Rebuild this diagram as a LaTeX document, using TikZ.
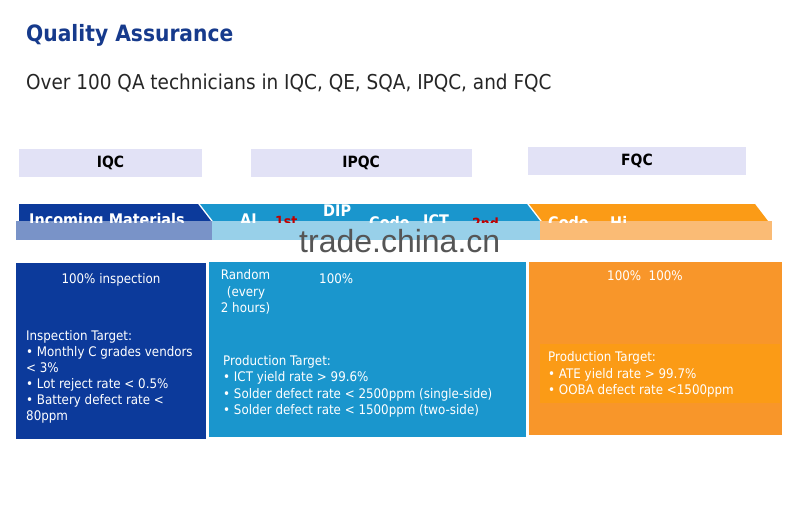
\documentclass[tikz,border=0pt]{standalone}
\usepackage{fontspec}
\setmainfont{DejaVu Sans}[FakeStretch=0.9]
\newfontfamily\wmfont{Liberation Sans}
\definecolor{dblue}{RGB}{12,58,155}
\definecolor{lblue}{RGB}{26,150,205}
\definecolor{orng}{RGB}{248,150,42}
\definecolor{orng2}{RGB}{251,155,22}
\definecolor{lav}{RGB}{226,226,246}
\definecolor{ttl}{RGB}{22,58,140}
\definecolor{bred}{RGB}{192,0,0}
\definecolor{wmgray}{RGB}{85,85,85}
\tikzset{
  labbox/.style={fill=lav, inner sep=0, minimum height=28pt, font=\fontsize{15.5}{18}\selectfont\bfseries, text=black},
  bodybox/.style={inner sep=0, draw=none},
  body/.style={anchor=base west, inner sep=0, text=white, font=\fontsize{13.2}{16}\selectfont},
  bantext/.style={anchor=base west, inner sep=0, text=white, font=\fontsize{16}{18}\selectfont\bfseries},
  banred/.style={bantext, text=bred},
}
\begin{document}
\begin{tikzpicture}[x=1pt,y=-1pt]
\useasboundingbox (0,0) rectangle (800,504);
\fill[white] (0,0) rectangle (800,504);

% title
\node[anchor=base west, inner sep=0, text=ttl, font=\fontsize{22.5}{26}\selectfont\bfseries] (title) at (26,41) {Quality Assurance};
\node[anchor=base west, inner sep=0, text=black!85, font=\fontsize{20.5}{24}\selectfont] (subtitle) at (26,89) {Over 100 QA technicians in IQC, QE, SQA, IPQC, and FQC};

% phase labels
\node[labbox, minimum width=183pt] (iqc) at (110.5,163) {IQC};
\node[labbox, minimum width=221pt] (ipqc) at (361.2,163) {IPQC};
\node[labbox, minimum width=218pt] (fqc) at (637,161.2) {FQC};

% banner chevrons
\fill[dblue] (19,204) -- (198,204) -- (211,221) -- (19,221) -- cycle;
\fill[lblue] (200,204) -- (527,204) -- (540,221) -- (213,221) -- cycle;
\fill[orng2] (529,204) -- (755,204) -- (768,221) -- (542,221) -- cycle;
% blurred band
\fill[dblue!55!white] (16,221) rectangle (212,240);
\fill[lblue!45!white] (212,221) rectangle (540,240);
\fill[orng!65!white] (540,221) rectangle (772,240);

\begin{scope}
\clip (0,200) rectangle (800,222);
\node[bantext] (inc) at (29,225) {Incoming Materials};
\node[bantext] (ai) at (240,225) {AI};
\node[banred, font=\fontsize{14}{16}\selectfont\bfseries] (first) at (275,226.5) {1st};
\node[bantext] (dip) at (323,216.5) {DIP};
\node[bantext] (code1) at (369,228.5) {Code};
\node[bantext] (ict) at (423,226.5) {ICT};
\node[banred, font=\fontsize{14}{16}\selectfont\bfseries] (second) at (472,228) {2nd};
\node[bantext] (code2) at (548,228.5) {Code};
\node[bantext] (hi) at (610,228.5) {Hi};
\end{scope}

% watermark
\node[anchor=base west, inner sep=0, text=wmgray, font=\wmfont\fontsize{32}{36}\selectfont] (wm) at (299,252) {trade.china.cn};

% body boxes
\node[bodybox, fill=dblue, minimum width=190pt, minimum height=175.7pt] (bx1) at (111,351.2) {};
\node[bodybox, fill=lblue, minimum width=317pt, minimum height=175pt] (bx2) at (367.5,349.2) {};
\node[bodybox, fill=orng, minimum width=252.7pt, minimum height=173pt] (bx3) at (655.3,348.5) {};
\node[bodybox, fill=orng2, minimum width=240pt, minimum height=59pt] (bx3in) at (660,373.5) {};

% IQC text
\node[body, anchor=base] (t100a) at (111,283) {100\% inspection};
\foreach \t [count=\i] in {Inspection Target:, • Monthly C grades vendors, < 3\%, • Lot reject rate < 0.5\%, • Battery defect rate <, 80ppm}
  \node[body] (iqct\i) at (26,{340.7+16*(\i-1)}) {\t};

% IPQC text
\node[body] (rnd1) at (220.7,279) {Random};
\node[body] (rnd2) at (226.7,296) {(every};
\node[body] (rnd3) at (220.7,312.7) {2 hours)};
\node[body] (t100b) at (319,283.3) {100\%};
\foreach \t [count=\i] in {Production Target:, • ICT yield rate > 99.6\%, • Solder defect rate < 2500ppm (single-side), • Solder defect rate < 1500ppm (two-side)}
  \node[body] (ipqct\i) at (223,{365+16.6*(\i-1)}) {\t};

% FQC text
\node[body] (t100c) at (607,280.7) {100\%\ \ 100\%};
\foreach \t [count=\i] in {Production Target:, • ATE yield rate > 99.7\%, • OOBA defect rate <1500ppm}
  \node[body] (fqct\i) at (548,{361.7+16.6*(\i-1)}) {\t};
\end{tikzpicture}
\end{document}
